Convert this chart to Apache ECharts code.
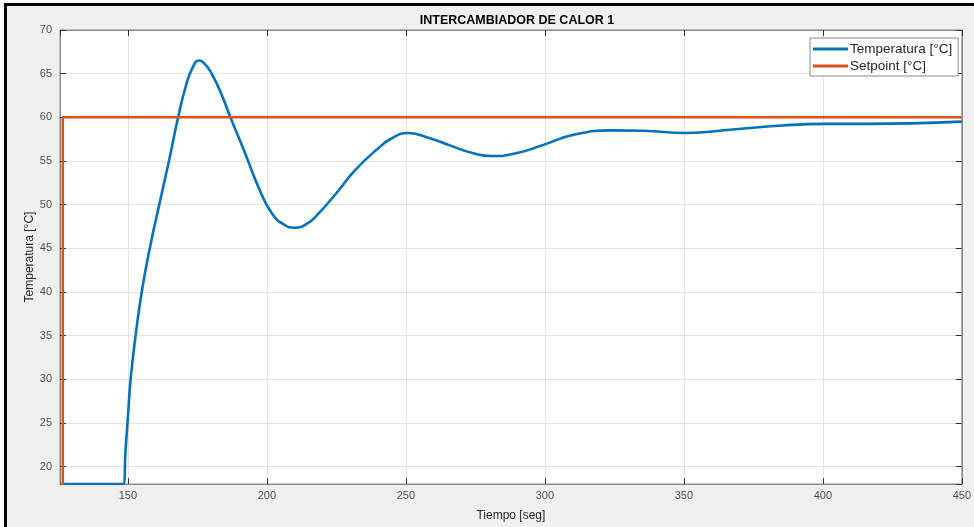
<!DOCTYPE html>
<html>
<head>
<meta charset="utf-8">
<script src="https://cdn.jsdelivr.net/npm/echarts@6/dist/echarts.min.js"></script>
<style>
html,body{margin:0;padding:0;background:#ffffff;overflow:hidden;}
#chart{width:974px;height:527px;}
</style>
</head>
<body>
<div id="chart"></div>
<script>
// ---- data ----
const titleText = 'INTERCAMBIADOR DE CALOR 1';
const xAxisName = 'Tiempo [seg]';
const yAxisName = 'Temperatura [°C]';
const seriesNames = ['Temperatura [°C]', 'Setpoint [°C]'];

const tempTime  = [125.6, 140, 148.3, 149.2, 150.1, 151.0, 152.8, 155.0, 157.9, 161.3, 164.8, 168.1, 170.8, 173.3, 175.6, 178.0, 180.5, 183.6, 186.9, 192.3, 197.0, 201.8, 206.2, 210.1, 214.9, 218.4, 225.0, 231.6, 239.9, 245.0, 250.6, 257.8, 266.6, 274.0, 281.0, 290.0, 300.0, 310.4, 324.1, 335.4, 351.0, 366.6, 385.4, 400.4, 416.6, 431.6, 450.0];
const tempValue = [18, 18, 18, 22.0, 26.0, 30.0, 35.0, 40.0, 45.0, 50.0, 55.0, 60.0, 63.5, 65.7, 66.5, 66.0, 64.8, 62.7, 60.0, 55.8, 52.0, 49.0, 47.7, 47.35, 47.9, 48.9, 51.3, 53.9, 56.4, 57.6, 58.2, 57.7, 56.7, 55.9, 55.56, 55.9, 56.9, 58.0, 58.5, 58.46, 58.2, 58.57, 59.06, 59.25, 59.25, 59.3, 59.5];

const setTime  = [125.6, 126.6, 126.6, 450];
const setValue = [18, 18, 60, 60];

const xMin = 125.6, xMax = 450;
const yMin = 18, yMax = 70;

// ---- build ----
const pair = (xs, ys) => xs.map((x, i) => [x, ys[i]]);
const borderColor = '#8a8a8a';
const labelColor = '#4d4d4d';

const chart = echarts.init(document.getElementById('chart'), null, {renderer: 'canvas'});
chart.setOption({
  backgroundColor: '#f0f0f0',
  animation: false,
  graphic: [
    {type: 'rect', shape: {x: 0, y: 0, width: 974, height: 3}, style: {fill: '#ffffff'}, z: 100},
    {type: 'rect', shape: {x: 0, y: 0, width: 4, height: 527}, style: {fill: '#ffffff'}, z: 100},
    {type: 'rect', shape: {x: 4, y: 3, width: 970, height: 3}, style: {fill: '#000000'}, z: 101},
    {type: 'rect', shape: {x: 4, y: 3, width: 3, height: 524}, style: {fill: '#000000'}, z: 101}
  ],
  title: {
    text: titleText,
    left: 512,
    top: 9,
    textAlign: 'center',
    textStyle: {fontFamily: 'Liberation Sans, Arial', fontSize: 12.5, fontWeight: 'bold', color: '#000000'}
  },
  legend: {
    data: seriesNames,
    orient: 'vertical',
    left: 810,
    top: 38,
    itemWidth: 35,
    itemHeight: 3,
    itemGap: 3,
    icon: 'rect',
    padding: [4, 6, 3, 3],
    backgroundColor: '#ffffff',
    borderColor: '#8a8a8a',
    borderWidth: 1,
    borderRadius: 0,
    textStyle: {fontFamily: 'Liberation Sans, Arial', fontSize: 13.5, color: '#262626', padding: [0, 0, 0, -3]}
  },
  grid: {left: 60, right: 6, top: 30, bottom: 41, show: true, backgroundColor: '#ffffff', borderColor: borderColor, borderWidth: 1},
  xAxis: [{
    type: 'value', min: xMin, max: xMax, splitNumber: 6,
    name: xAxisName, nameLocation: 'middle', nameGap: 26, nameMoveOverlap: false,
    nameTextStyle: {fontFamily: 'Liberation Sans, Arial', fontSize: 12, color: '#262626'},
    axisLine: {show: true, lineStyle: {color: borderColor}},
    axisTick: {show: true, inside: true, length: 6, lineStyle: {color: '#333'}},
    axisLabel: {showMinLabel: false, margin: 6, fontFamily: 'Liberation Sans, Arial', fontSize: 11, color: labelColor},
    splitLine: {show: true, lineStyle: {color: '#e3e3e3', width: 1}}
  }, {
    type: 'value', position: 'top', min: xMin, max: xMax, splitNumber: 6,
    axisLine: {show: true, lineStyle: {color: borderColor}},
    axisTick: {show: true, inside: true, length: 6, lineStyle: {color: '#333'}},
    axisLabel: {show: false},
    splitLine: {show: false}
  }],
  yAxis: [{
    type: 'value', min: yMin, max: yMax, splitNumber: 10,
    name: yAxisName, nameLocation: 'middle', nameGap: 24, nameRotate: 90, nameMoveOverlap: false,
    nameTextStyle: {fontFamily: 'Liberation Sans, Arial', fontSize: 12, color: '#262626'},
    axisLine: {show: true, lineStyle: {color: borderColor}},
    axisTick: {show: true, inside: true, length: 6, lineStyle: {color: '#333'}},
    axisLabel: {showMinLabel: false, margin: 8, fontFamily: 'Liberation Sans, Arial', fontSize: 11, color: labelColor},
    splitLine: {show: true, lineStyle: {color: '#e3e3e3', width: 1}}
  }, {
    type: 'value', position: 'right', min: yMin, max: yMax, splitNumber: 10,
    axisLine: {show: true, lineStyle: {color: borderColor}},
    axisTick: {show: true, inside: true, length: 6, lineStyle: {color: '#333'}},
    axisLabel: {show: false},
    splitLine: {show: false}
  }],
  series: [{
    name: seriesNames[0], type: 'line', data: pair(tempTime, tempValue),
    smooth: 0.5, showSymbol: false, symbol: 'none',
    lineStyle: {color: '#0072BD', width: 2.6}, itemStyle: {color: '#0072BD'}, clip: true
  }, {
    name: seriesNames[1], type: 'line', data: pair(setTime, setValue),
    showSymbol: false, symbol: 'none',
    lineStyle: {color: '#D95319', width: 2.6}, itemStyle: {color: '#D95319'}, clip: true
  }]
});
</script>
</body>
</html>
